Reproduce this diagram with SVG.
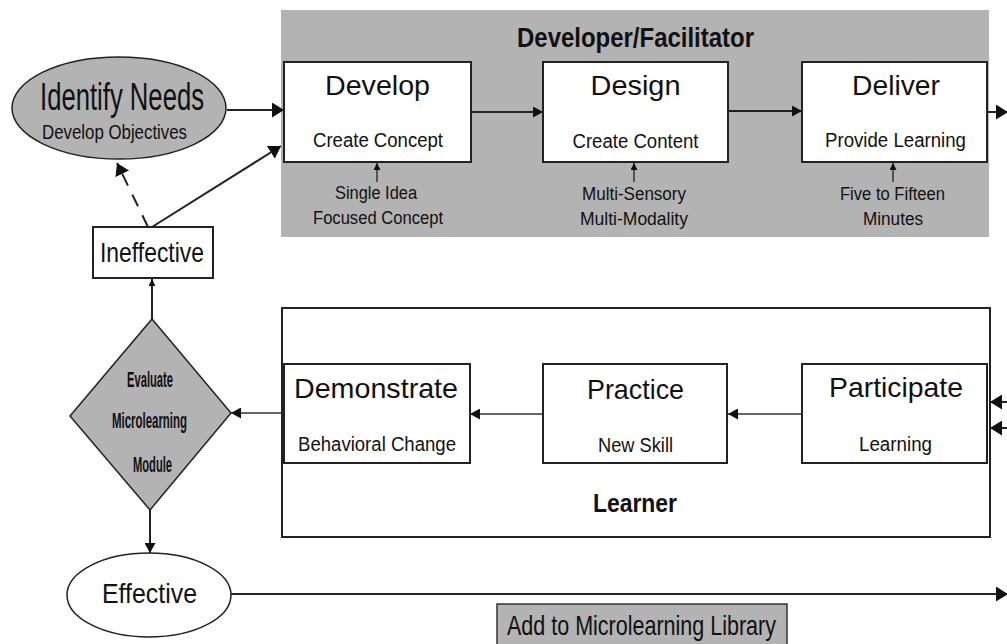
<svg xmlns="http://www.w3.org/2000/svg" width="1007" height="644" viewBox="0 0 1007 644">
<defs>
<style>
text{font-family:"Liberation Sans",Arial,sans-serif;fill:#111;}
.big{font-size:28px;text-anchor:middle;}
.sub{font-size:19.5px;text-anchor:middle;}
.note{font-size:18px;text-anchor:middle;}
.bold{font-weight:bold;text-anchor:middle;}
.box{fill:#fff;stroke:#222;stroke-width:2;}
.gray{fill:#b3b3b3;}
.ln{fill:none;stroke:#222;stroke-width:2;}
.thin{fill:none;stroke:#333;stroke-width:1.5;}
</style>
<marker id="ab" viewBox="0 0 12 15" refX="12" refY="7.5" markerWidth="12" markerHeight="15" orient="auto" markerUnits="userSpaceOnUse"><path d="M0,0 L12,7.5 L0,15 z" fill="#111"/></marker>
<marker id="am" viewBox="0 0 10 11" refX="10" refY="5.5" markerWidth="10" markerHeight="11" orient="auto" markerUnits="userSpaceOnUse"><path d="M0,0 L10,5.5 L0,11 z" fill="#111"/></marker>
<marker id="as" viewBox="0 0 7 7" refX="7" refY="3.5" markerWidth="7" markerHeight="7" orient="auto" markerUnits="userSpaceOnUse"><path d="M0,0 L7,3.5 L0,7 z" fill="#111"/></marker>
</defs>
<rect width="1007" height="644" fill="#fff"/>

<g id="developer-panel">
<rect x="281" y="10" width="708" height="227" class="gray"/>
<text class="bold" x="635.5" y="47" font-size="27.5" textLength="237" lengthAdjust="spacingAndGlyphs">Developer/Facilitator</text>
</g>

<g id="learner-panel">
<rect x="282" y="308" width="708" height="229" fill="#fff" stroke="#222" stroke-width="2"/>
<text class="bold" x="635" y="512" font-size="26.5" textLength="84" lengthAdjust="spacingAndGlyphs">Learner</text>
</g>

<g id="connectors">
<line class="ln" x1="227" y1="110" x2="284" y2="110" marker-end="url(#ab)"/>
<line class="ln" x1="471" y1="112" x2="543" y2="112" marker-end="url(#am)"/>
<line class="ln" x1="728" y1="111" x2="802" y2="111" marker-end="url(#am)"/>
<line class="ln" x1="988" y1="112" x2="1008" y2="112" marker-end="url(#ab)"/>
<line class="ln" x1="152" y1="227" x2="281" y2="146" marker-end="url(#ab)"/>
<line class="ln" x1="148" y1="227" x2="117" y2="163" stroke-dasharray="13,10" marker-end="url(#ab)"/>
<line class="ln" x1="152" y1="319" x2="152" y2="279" stroke-width="1.5" marker-end="url(#as)"/>
<line class="thin" x1="284" y1="413" x2="231" y2="413" marker-end="url(#am)"/>
<line class="thin" x1="543" y1="414" x2="470" y2="414" marker-end="url(#am)"/>
<line class="thin" x1="802" y1="414" x2="728" y2="414" marker-end="url(#am)"/>
<line class="ln" x1="150" y1="510" x2="150" y2="553" stroke-width="1.5" marker-end="url(#am)"/>
<line class="ln" x1="231" y1="594" x2="1008" y2="594" marker-end="url(#ab)"/>
<line class="ln" x1="1007" y1="402" x2="990" y2="402" marker-end="url(#ab)"/>
<line class="ln" x1="1007" y1="428" x2="990" y2="428" marker-end="url(#ab)"/>
<line class="thin" x1="377" y1="182" x2="377" y2="163" marker-end="url(#as)"/>
<line class="thin" x1="634" y1="182" x2="634" y2="163" marker-end="url(#as)"/>
<line class="thin" x1="893" y1="182" x2="893" y2="163" marker-end="url(#as)"/>
</g>

<g id="identify-needs">
<ellipse cx="119" cy="108" rx="107" ry="51" class="gray" stroke="#222" stroke-width="1.5"/>
<text x="122" y="110" font-size="39" text-anchor="middle" textLength="164" lengthAdjust="spacingAndGlyphs">Identify Needs</text>
<text x="114.5" y="139" font-size="21" text-anchor="middle" textLength="145" lengthAdjust="spacingAndGlyphs">Develop Objectives</text>
</g>

<g id="develop">
<rect x="284" y="62" width="187" height="100" class="box"/>
<text class="big" x="377.5" y="95" textLength="105" lengthAdjust="spacingAndGlyphs">Develop</text>
<text class="sub" x="378" y="147" textLength="130" lengthAdjust="spacingAndGlyphs">Create Concept</text>
<text class="note" x="376" y="199" textLength="82" lengthAdjust="spacingAndGlyphs">Single Idea</text>
<text class="note" x="378" y="224" textLength="130" lengthAdjust="spacingAndGlyphs">Focused Concept</text>
</g>

<g id="design">
<rect x="543" y="62" width="185" height="100" class="box"/>
<text class="big" x="635.5" y="95" textLength="90" lengthAdjust="spacingAndGlyphs">Design</text>
<text class="sub" x="635.5" y="148" textLength="126" lengthAdjust="spacingAndGlyphs">Create Content</text>
<text class="note" x="634" y="200" textLength="104" lengthAdjust="spacingAndGlyphs">Multi-Sensory</text>
<text class="note" x="634" y="225" textLength="108" lengthAdjust="spacingAndGlyphs">Multi-Modality</text>
</g>

<g id="deliver">
<rect x="802" y="62" width="185" height="100" class="box"/>
<text class="big" x="896" y="95" textLength="88" lengthAdjust="spacingAndGlyphs">Deliver</text>
<text class="sub" x="895.5" y="147" textLength="141" lengthAdjust="spacingAndGlyphs">Provide Learning</text>
<text class="note" x="892.5" y="200" textLength="105" lengthAdjust="spacingAndGlyphs">Five to Fifteen</text>
<text class="note" x="893" y="225" textLength="60" lengthAdjust="spacingAndGlyphs">Minutes</text>
</g>

<g id="ineffective">
<rect x="93" y="227" width="120" height="51" class="box" stroke-width="1.5"/>
<text class="big" x="152" y="262" textLength="104" lengthAdjust="spacingAndGlyphs">Ineffective</text>
</g>

<g id="evaluate">
<polygon points="152,319 231,413 150,510 70,416" class="gray" stroke="#222" stroke-width="1.5"/>
<text class="bold" x="150" y="387" font-size="22.5" textLength="46" lengthAdjust="spacingAndGlyphs">Evaluate</text>
<text class="bold" x="149.5" y="428" font-size="22.5" textLength="75" lengthAdjust="spacingAndGlyphs">Microlearning</text>
<text class="bold" x="152.5" y="472" font-size="22.5" textLength="39" lengthAdjust="spacingAndGlyphs">Module</text>
</g>

<g id="demonstrate">
<rect x="284" y="364" width="186" height="99" class="box"/>
<text class="big" x="376" y="398" textLength="164" lengthAdjust="spacingAndGlyphs">Demonstrate</text>
<text class="sub" x="377" y="451" font-size="19" textLength="158" lengthAdjust="spacingAndGlyphs">Behavioral Change</text>
</g>

<g id="practice">
<rect x="543" y="364" width="184" height="99" class="box"/>
<text class="big" x="635.5" y="399" textLength="97" lengthAdjust="spacingAndGlyphs">Practice</text>
<text class="sub" x="635.5" y="452" font-size="21" textLength="75" lengthAdjust="spacingAndGlyphs">New Skill</text>
</g>

<g id="participate">
<rect x="802" y="364" width="185" height="99" class="box"/>
<text class="big" x="896" y="397" textLength="134" lengthAdjust="spacingAndGlyphs">Participate</text>
<text class="sub" x="895.5" y="451" font-size="21" textLength="73" lengthAdjust="spacingAndGlyphs">Learning</text>
</g>

<g id="effective">
<ellipse cx="149" cy="595" rx="82" ry="42" fill="#fff" stroke="#222" stroke-width="1.5"/>
<text class="big" x="149.5" y="603" textLength="95" lengthAdjust="spacingAndGlyphs">Effective</text>
</g>

<g id="library">
<rect x="497" y="604" width="290" height="46" class="gray" stroke="#333" stroke-width="1.5"/>
<text x="641.5" y="635" font-size="28" text-anchor="middle" textLength="269" lengthAdjust="spacingAndGlyphs">Add to Microlearning Library</text>
</g>
</svg>
